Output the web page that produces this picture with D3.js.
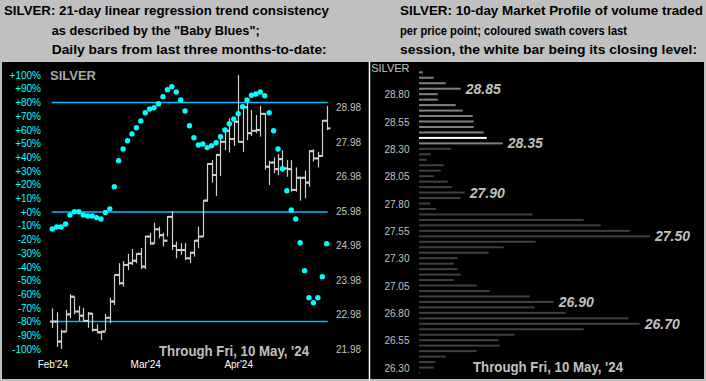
<!DOCTYPE html>
<html>
<head>
<title>Silver</title>
<style>
body { margin: 0; background: #c0c0c0; font-family: Arial, "Liberation Sans", sans-serif; }
svg { display: block; }
</style>
</head>
<body>
<script src="https://d3js.org/d3.v7.min.js"></script>
<script>
// daily bars, mid-Feb to 10 May '24
var highs = [23.19,23.08,22.57,23.15,23.60,23.53,23.26,23.21,23.09,23.05,22.73,22.54,23.03,23.50,24.16,24.50,24.56,24.77,24.91,24.79,24.94,25.29,25.38,25.67,25.56,25.38,25.86,26.01,25.12,25.08,25.08,24.83,25.17,25.56,26.33,27.39,27.48,27.66,28.21,28.37,28.69,28.64,29.94,29.03,29.17,28.93,28.79,29.05,28.84,27.46,27.56,27.66,27.77,27.48,27.48,27.27,27.00,27.18,27.77,27.79,27.72,28.64,29.05];
var lows = [22.63,22.08,22.02,22.52,22.91,23.02,22.83,22.81,22.63,22.52,22.47,22.28,22.54,22.76,23.29,23.87,23.82,24.30,24.45,24.50,24.33,24.33,25.03,25.07,25.22,24.98,25.27,24.88,24.64,24.74,24.59,24.50,24.69,24.93,25.27,26.28,26.83,26.44,27.02,27.77,27.70,27.89,27.99,27.72,28.06,28.18,28.26,28.16,27.20,26.76,27.10,27.05,27.15,27.00,26.57,26.57,26.31,26.38,26.71,27.44,27.27,27.58,28.35];
var closes = [22.81,22.23,22.52,23.02,23.53,23.10,22.98,22.83,23.04,22.57,22.50,22.52,22.92,23.39,24.16,23.92,24.45,24.50,24.57,24.77,24.40,25.27,25.07,25.48,25.31,25.15,25.84,25.00,24.88,24.88,24.64,24.80,25.15,25.27,26.31,27.37,27.05,27.63,28.01,28.33,28.09,28.59,28.01,29.01,28.26,28.33,28.35,28.82,27.29,27.41,27.22,27.51,27.24,27.22,26.62,26.97,26.97,26.83,27.74,27.53,27.60,28.62,28.40];
// "Baby Blues" (21-day linear regression trend consistency, %)
var blues = [-12.4,-10.9,-10.9,-8.8,-2.2,0.2,0.2,-2.2,-2.9,-2.9,-4.1,-5.1,-0.4,2.3,18.5,37.5,46,52,57,61.5,66.4,72.5,75.2,76.1,79,84.2,89.3,91.5,87.6,81.8,73.7,63,54.2,48.9,49.6,47,48.4,50.6,55,59.9,64.5,67.9,71.8,76.9,81.8,85.2,86.1,87.6,84.9,72.5,59.3,46,31.6,15.5,1.5,-5.1,-22.4,-42.8,-62.6,-66.2,-62.6,-47.2,-23.1];
var pctTicks = [100,90,80,70,60,50,40,30,20,10,0,-10,-20,-30,-40,-50,-60,-70,-80,-90,-100];
var bandLevels = [80, 0, -80];
var priceTicks = [28.98,27.98,26.98,25.98,24.98,23.98,22.98,21.98];
var monthLabels = ["Feb'24","Mar'24","Apr'24"];
var monthIdx = [0, 21, 42];

// 10-day market profile
var mpLevels = d3.range(56).map(function(i) { return +(29.00 - i * 0.05).toFixed(2); });
var mpVolume = [3.7,14.7,26.7,41.7,18.7,18.7,36.7,43.7,53.7,54.7,54.7,64.7,67.7,83.7,31.7,11.7,7.7,24.7,21.7,14.7,28.7,32.7,45.7,41.7,
                11,17,113.7,164.7,181.7,210.7,231,116.7,84.7,69.7,38.7,34.7,38.7,41.7,34.7,57.7,70.7,110.7,134.7,115.7,146.7,209.7,220.7,164.7,95.7,79.7,80.7,57.7,26.7,16.7,14.7,0.7];
var mpPeaks = [28.85, 28.35, 27.90, 27.50, 26.90, 26.70];
var mpTicks = [28.80,28.55,28.30,28.05,27.80,27.55,27.30,27.05,26.80,26.55,26.30];

var leftTitle = ["SILVER:  21-day linear regression trend consistency", "as described by the \"Baby Blues\";", "Daily bars from last three months-to-date:"];
var rightTitle = ["SILVER:  10-day Market Profile of volume traded", "per price point; coloured swath covers last", "session, the white bar being its closing level:"];
var footer = "Through Fri, 10 May, '24";

var W = 706, H = 381;
var svg = d3.select("body").append("svg").attr("width", W).attr("height", H);
svg.append("rect").attr("width", W).attr("height", H).attr("fill", "#c0c0c0");

// titles
var titleX = [[4, 51.7, 51.7], [400, 400, 400]];
var titleLen = [[325, 208, 275], [303, 227, 297]];
var titleY = [15, 35, 54];
[leftTitle, rightTitle].forEach(function(lines, k) {
	lines.forEach(function(t, i) {
		svg.append("text").attr("x", titleX[k][i]).attr("y", titleY[i])
			.attr("font-size", 12.5).attr("font-weight", "bold").attr("fill", "#000")
			.attr("textLength", titleLen[k][i]).attr("lengthAdjust", "spacingAndGlyphs")
			.text(t);
	});
});

// black panels
svg.append("rect").attr("x", 2).attr("y", 62).attr("width", 702).attr("height", 317).attr("fill", "#000");

// ---- left panel ----
var x = d3.scaleLinear().domain([0, highs.length - 1]).range([52.3, 326.7]);
var yPct = d3.scaleLinear().domain([-100, 100]).range([349, 75]);
var yPrice = d3.scaleLinear().domain([25.98, 28.98]).range([212, 108.3]);

svg.append("g").attr("transform", "translate(41,0)")
	.attr("font-size", 11).attr("font-family", "Arial, 'Liberation Sans', sans-serif")
	.style("color", "#00ffff")
	.call(d3.axisLeft(yPct).tickValues(pctTicks).tickSize(0).tickPadding(0)
		.tickFormat(function(d) { return (d >= 0 ? "+" : "") + d + "%"; }))
	.call(function(g) { g.select(".domain").remove(); });

svg.append("g").attr("transform", "translate(336,-1)")
	.attr("font-size", 11).attr("font-family", "Arial, 'Liberation Sans', sans-serif")
	.style("color", "#c0c0c0")
	.call(d3.axisRight(yPrice).tickValues(priceTicks).tickSize(0).tickPadding(0).tickFormat(d3.format(".2f")))
	.call(function(g) { g.select(".domain").remove(); });

svg.append("g").attr("transform", "translate(0,361)")
	.attr("font-size", 11).attr("font-family", "Arial, 'Liberation Sans', sans-serif")
	.style("color", "#fff")
	.call(d3.axisBottom(x).tickValues(monthIdx).tickSize(0).tickPadding(0)
		.tickFormat(function(d, i) { return monthLabels[i]; }))
	.call(function(g) { g.select(".domain").remove(); });

svg.append("text").attr("x", 50).attr("y", 80).attr("font-size", 13).attr("font-weight", "bold")
	.attr("fill", "#a8a8a8").text("SILVER");

svg.selectAll(".band").data(bandLevels).enter().append("line")
	.attr("x1", x(0) - 0.5).attr("x2", x(highs.length - 1) + 1)
	.attr("y1", function(d) { return yPct(d); }).attr("y2", function(d) { return yPct(d); })
	.attr("stroke", "#00bfff").attr("stroke-width", 1.5);

var bars = svg.selectAll(".ohlc").data(highs).enter().append("g")
	.attr("transform", function(d, i) { return "translate(" + Math.round(x(i)) + ",0)"; });
bars.append("line").attr("x1", 0.5).attr("x2", 0.5)
	.attr("y1", function(d, i) { return yPrice(highs[i]); })
	.attr("y2", function(d, i) { return yPrice(lows[i]); })
	.attr("stroke", "#d0d0d0").attr("stroke-width", 1.2);
bars.append("rect").attr("x", -2).attr("width", 2.5).attr("height", 2)
	.attr("y", function(d, i) { return yPrice(i > 0 ? closes[i - 1] : closes[i]) - 1; })
	.attr("fill", "#d0d0d0");
bars.append("rect").attr("x", 0.5).attr("width", 3).attr("height", 2)
	.attr("y", function(d, i) { return yPrice(closes[i]) - 1; })
	.attr("fill", "#d0d0d0");

svg.selectAll(".blue").data(blues).enter().append("circle")
	.attr("cx", function(d, i) { return x(i); })
	.attr("cy", function(d) { return yPct(d); })
	.attr("r", 2.7).attr("fill", "#00ffff");

svg.append("text").attr("x", 159).attr("y", 356).attr("font-size", 15).attr("font-weight", "bold")
	.attr("fill", "#c0c0c0").attr("textLength", 150).attr("lengthAdjust", "spacingAndGlyphs").text(footer);

// ---- right panel ----
svg.append("line").attr("x1", 369.5).attr("x2", 369.5).attr("y1", 62).attr("y2", H)
	.attr("stroke", "#fff").attr("stroke-width", 1.5);

var yMP = d3.scaleLinear().domain([26.25, 29.00]).range([373, 72.3]);
var xMP = d3.scaleLinear().domain([0, 231]).range([419, 650]);
var lastHigh = highs[highs.length - 1], lastLow = lows[lows.length - 1], lastClose = closes[closes.length - 1];

svg.append("g").attr("transform", "translate(409.5,0.5)")
	.attr("font-size", 11).attr("font-family", "Arial, 'Liberation Sans', sans-serif")
	.style("color", "#c0c0c0")
	.call(d3.axisLeft(yMP).tickValues(mpTicks).tickSize(0).tickPadding(0).tickFormat(d3.format(".2f")))
	.call(function(g) { g.select(".domain").remove(); });
svg.append("text").attr("x", 409.5).attr("y", 71.5).attr("text-anchor", "end").attr("font-size", 11)
	.attr("fill", "#c0c0c0").text("SILVER");

svg.selectAll(".mp").data(mpLevels).enter().append("rect")
	.attr("x", xMP(0))
	.attr("y", function(d) { return yMP(d) - 1; })
	.attr("height", 2)
	.attr("width", function(d, i) { return Math.max(1, xMP(mpVolume[i]) - xMP(0)); })
	.attr("fill", function(d) {
		if (Math.abs(d - lastClose) < 0.001) return "#ffffff";
		return (d <= lastHigh && d >= lastLow - 0.001) ? "#808080" : "#404040";
	});

svg.selectAll(".peak").data(mpPeaks).enter().append("text")
	.attr("x", function(d) { return xMP(mpVolume[mpLevels.indexOf(d)]) + 5; })
	.attr("y", function(d) { return yMP(d) + 5; })
	.attr("font-size", 14).attr("font-weight", "bold").attr("font-style", "italic")
	.attr("fill", "#c0c0c0").text(function(d) { return d.toFixed(2); });

svg.append("text").attr("x", 473).attr("y", 372).attr("font-size", 15).attr("font-weight", "bold")
	.attr("fill", "#c0c0c0").attr("textLength", 150).attr("lengthAdjust", "spacingAndGlyphs").text(footer);
</script>
</body>
</html>
